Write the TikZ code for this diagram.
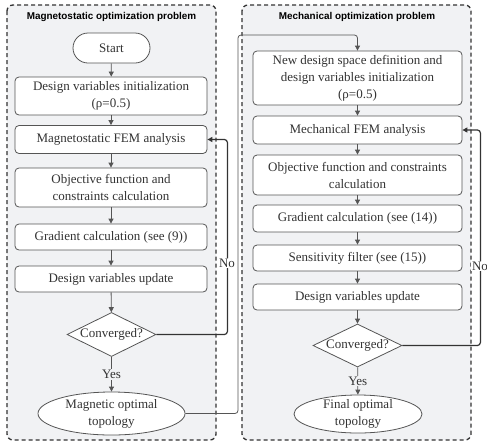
\documentclass[tikz,border=0pt]{standalone}
\usepackage{fontspec}
\setmainfont{Liberation Serif}
\setsansfont{Liberation Sans}
\usetikzlibrary{shapes.geometric, arrows.meta, positioning}

\definecolor{panelgrey}{HTML}{F1F2F4}
\definecolor{linegrey}{HTML}{555555}
\definecolor{textgrey}{HTML}{333333}

\tikzset{
  panel/.style={draw=black!80, line width=1.3pt, dash pattern=on 4pt off 3pt, rounded corners=6pt, fill=panelgrey},
  ptitle/.style={font=\sffamily\bfseries\fontsize{9.9}{12}\selectfont},
  box/.style={draw=linegrey, line width=0.8pt, rounded corners=4pt, fill=white, text=textgrey, align=center, inner sep=0pt, font=\fontsize{13}{17}\selectfont},
  terminal/.style={box, rounded corners=15pt},
  topo/.style={ellipse, draw=linegrey, line width=0.8pt, fill=white, text=textgrey, align=center, inner sep=0pt, inner ysep=-3pt, font=\fontsize{13}{17}\selectfont},
  decision/.style={diamond, draw=linegrey, line width=0.8pt, fill=white, text=textgrey, shape aspect=2, inner sep=0pt, inner xsep=-12pt, minimum width=89pt, minimum height=44pt, font=\fontsize{13}{17}\selectfont},
  arr/.style={draw=linegrey, line width=0.8pt, -{Triangle[length=5pt,width=5pt]}},
  loopline/.style={draw=textgrey, line width=1.2pt, rounded corners=3pt, -{Triangle[length=5pt,width=5pt]}},
  yesno/.style={text=textgrey, inner sep=1pt, font=\fontsize{13}{17}\selectfont},
}

\begin{document}
\begin{tikzpicture}[x=1pt, y=-1pt]
    \useasboundingbox (0,0) rectangle (487,445);
    % panels
    \draw[panel] (7,5) rectangle (216,440);
    \draw[panel] (242,5) rectangle (471,440);
    \node[ptitle] (magtitle) at (111.5,17) {Magnetostatic optimization problem};
    \node[ptitle] (mechtitle) at (357,17) {Mechanical optimization problem};

    % magnetostatic steps
    \node[terminal, minimum width=77pt, minimum height=30pt] (start) at (111.5,48) {Start};
    \node[box, minimum width=192pt, minimum height=38pt] (maginit) at (111,96) {Design variables initialization\\(ρ=0.5)};
    \node[box, minimum width=192pt, minimum height=28pt] (magfem) at (111,139.5) {Magnetostatic FEM analysis};
    \node[box, minimum width=192pt, minimum height=39pt] (magobj) at (111,187.5) {Objective function and\\constraints calculation};
    \node[box, minimum width=192pt, minimum height=26pt] (maggrad) at (111,237) {Gradient calculation (see (9))};
    \node[box, minimum width=192pt, minimum height=26pt] (magupd) at (111,279) {Design variables update};
    \node[decision] (magconv) at (111.5,334.5) {Converged?};
    \node[topo, minimum width=147pt, minimum height=43pt] (magtopo) at (111.5,413.5) {Magnetic optimal\\topology};

    \draw[arr] (start) -- (maginit);
    \draw[arr] (maginit) -- (magfem);
    \draw[arr] (magfem) -- (magobj);
    \draw[arr] (magobj) -- (maggrad);
    \draw[arr] (maggrad) -- (magupd);
    \draw[arr] (magupd) -- (magconv);
    \draw[arr] (magconv) -- node[yesno, fill=panelgrey] (magyes) {Yes} (magtopo);
    \draw[loopline] (magconv.east) -- ++(71,0) |- (magfem.east);
    \node[yesno, fill=white] (magno) at (227,263) {No};

    % mechanical steps
    \node[box, minimum width=209pt, minimum height=54pt] (mechinit) at (357.5,78) {New design space definition and\\design variables initialization\\(ρ=0.5)};
    \node[box, minimum width=209pt, minimum height=28pt] (mechfem) at (357.5,130) {Mechanical FEM analysis};
    \node[box, minimum width=209pt, minimum height=40pt] (mechobj) at (357.5,175) {Objective function and constraints\\calculation};
    \node[box, minimum width=209pt, minimum height=27pt] (mechgrad) at (357.5,218.5) {Gradient calculation (see (14))};
    \node[box, minimum width=209pt, minimum height=26pt] (mechsens) at (357.5,258) {Sensitivity filter (see (15))};
    \node[box, minimum width=209pt, minimum height=26pt] (mechupd) at (357.5,297) {Design variables update};
    \node[decision, minimum height=43pt] (mechconv) at (357.5,345.5) {Converged?};
    \node[topo, minimum width=128pt, minimum height=38pt] (mechtopo) at (358,414) {Final optimal\\topology};

    \draw[arr] (mechinit) -- (mechfem);
    \draw[arr] (mechfem) -- (mechobj);
    \draw[arr] (mechobj) -- (mechgrad);
    \draw[arr] (mechgrad) -- (mechsens);
    \draw[arr] (mechsens) -- (mechupd);
    \draw[arr] (mechupd) -- (mechconv);
    \draw[arr] (mechconv) -- node[yesno, fill=panelgrey] (mechyes) {Yes} (mechtopo);
    \draw[loopline] (mechconv.east) -- ++(78,0) |- (mechfem.east);
    \node[yesno, fill=white] (mechno) at (480,266) {No};

    % hand over to the mechanical problem
    \coordinate (handover) at (238,35);
    \draw[arr, rounded corners=3pt] (magtopo.east) -| (handover) -| (mechinit.north);
\end{tikzpicture}
\end{document}
